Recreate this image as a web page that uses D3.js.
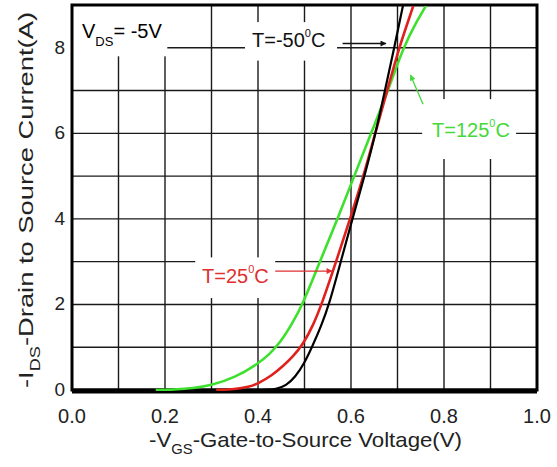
<!DOCTYPE html>
<html lang="en">
<head>
    <meta charset="UTF-8">
    <title>Transfer Characteristics</title>
    <script src="https://cdnjs.cloudflare.com/ajax/libs/d3/7.8.5/d3.min.js"></script>
    <style>
        body { margin: 0; background: white; }
        text { font-family: 'Liberation Sans', Arial, sans-serif; }
    </style>
</head>
<body>
    <div id="chart"></div>
    <script>
        // Curve data: [-VGS (V), -IDS (A)]
        const curveCold = [[0.41,0],[0.44,0.02],[0.46,0.1],[0.48,0.3],[0.5,0.63],[0.516,1.0],[0.536,1.5],[0.553,2.0],[0.578,3.0],[0.603,4.0],[0.629,5.0],[0.653,6.0],[0.673,7.0],[0.693,8.0],[0.712,9.0],[0.716,9.2]];
        const curveRoom = [[0.31,0],[0.35,0.02],[0.38,0.07],[0.4,0.15],[0.43,0.34],[0.454,0.56],[0.475,0.78],[0.497,1.07],[0.518,1.5],[0.537,2.0],[0.568,3.0],[0.598,4.0],[0.627,5.0],[0.652,6.0],[0.678,7.0],[0.703,8.0],[0.735,9.0],[0.74,9.2]];
        const curveHot = [[0.18,0],[0.22,0.01],[0.26,0.04],[0.3,0.11],[0.35,0.29],[0.4,0.61],[0.425,0.84],[0.447,1.1],[0.472,1.52],[0.497,2.02],[0.533,3.0],[0.571,4.0],[0.607,5.0],[0.643,6.0],[0.68,7.0],[0.712,8.0],[0.74,8.6],[0.763,9.0],[0.77,9.2]];

        const xTicks = [0, 0.2, 0.4, 0.6, 0.8, 1.0];
        const yTicks = [0, 2, 4, 6, 8];
        const xGrid = d3.range(0, 11).map(i => i / 10);
        const yGrid = d3.range(0, 10);

        const W = 557, H = 467;
        const margin = { top: 5, right: 20, bottom: 77, left: 72 };

        const svg = d3.select("#chart").append("svg")
            .attr("width", W)
            .attr("height", H);

        const x = d3.scaleLinear().domain([0, 1]).range([margin.left, 537]);
        const y = d3.scaleLinear().domain([0, 9]).range([390, margin.top]);

        // grid
        svg.append("g").selectAll("line").data(xGrid).enter().append("line")
            .attr("x1", d => x(d)).attr("x2", d => x(d))
            .attr("y1", y(0)).attr("y2", y(9))
            .attr("stroke", "#1a1a1a").attr("stroke-width", 1.4);
        svg.append("g").selectAll("line").data(yGrid).enter().append("line")
            .attr("x1", x(0)).attr("x2", x(1))
            .attr("y1", d => y(d)).attr("y2", d => y(d))
            .attr("stroke", "#1a1a1a").attr("stroke-width", 1.4);

        // white boxes behind the annotations
        const boxes = [
            [0, 9, 0.205, 7.8],
            [0.372, 8.6, 0.57, 7.7],
            [0.753, 6.8, 0.955, 5.4],
            [0.265, 3.1, 0.437, 2.15]
        ];
        svg.append("g").selectAll("rect").data(boxes).enter().append("rect")
            .attr("x", d => x(d[0]))
            .attr("y", d => y(d[1]))
            .attr("width", d => x(d[2]) - x(d[0]))
            .attr("height", d => y(d[3]) - y(d[1]))
            .attr("fill", "white");

        // frame
        svg.append("rect")
            .attr("x", x(0)).attr("y", y(9))
            .attr("width", x(1) - x(0)).attr("height", y(0) - y(9))
            .attr("fill", "none").attr("stroke", "black").attr("stroke-width", 3);
        svg.append("line")
            .attr("x1", x(0)).attr("x2", x(1))
            .attr("y1", y(0) + 1).attr("y2", y(0) + 1)
            .attr("stroke", "black").attr("stroke-width", 5);

        // curves
        svg.append("clipPath").attr("id", "clip").append("rect")
            .attr("x", x(0)).attr("y", y(9) + 1)
            .attr("width", x(1) - x(0)).attr("height", y(0) - y(9));

        const line = d3.line()
            .x(d => x(d[0]))
            .y(d => y(d[1]))
            .curve(d3.curveBasis);

        const curves = [
            { data: curveHot, color: "#3ee02e", w: 2.6 },
            { data: curveRoom, color: "#e0201c", w: 2.6 },
            { data: curveCold, color: "#000000", w: 2.2 }
        ];
        svg.append("g").attr("clip-path", "url(#clip)")
            .selectAll("path").data(curves).enter().append("path")
            .attr("d", d => line(d.data))
            .attr("fill", "none")
            .attr("stroke", d => d.color)
            .attr("stroke-width", d => d.w);

        // tick labels
        svg.append("g").selectAll("text").data(xTicks).enter().append("text")
            .attr("x", d => x(d))
            .attr("y", 423)
            .attr("text-anchor", "middle")
            .attr("font-size", 20)
            .attr("fill", "#222")
            .text(d => d.toFixed(1));
        svg.append("g").selectAll("text").data(yTicks).enter().append("text")
            .attr("x", 65)
            .attr("y", d => y(d) + 6)
            .attr("text-anchor", "end")
            .attr("font-size", 19)
            .attr("fill", "#222")
            .text(d => d);

        // axis titles
        const xt = svg.append("text")
            .attr("x", 149).attr("y", 447)
            .attr("font-size", 21)
            .attr("fill", "#222")
            .attr("textLength", 313)
            .attr("lengthAdjust", "spacingAndGlyphs");
        xt.append("tspan").text("-V");
        xt.append("tspan").attr("dy", 7).attr("font-size", 14).text("GS");
        xt.append("tspan").attr("dy", -7).text("-Gate-to-Source Voltage(V)");

        const yt = svg.append("text")
            .attr("transform", "translate(33,388) rotate(-90)")
            .attr("font-size", 21)
            .attr("fill", "#222")
            .attr("textLength", 376)
            .attr("lengthAdjust", "spacingAndGlyphs");
        yt.append("tspan").text("-I");
        yt.append("tspan").attr("dy", 7).attr("font-size", 14).text("DS");
        yt.append("tspan").attr("dy", -7).text("-Drain to Source Current(A)");

        // annotations
        const vds = svg.append("text").attr("x", 82).attr("y", 38).attr("font-size", 20);
        vds.append("tspan").text("V");
        vds.append("tspan").attr("dy", 8).attr("font-size", 13).text("DS");
        vds.append("tspan").attr("dy", -8).text("= -5V");

        const labels = [
            { x: 252, y: 47, t: "T=-50", color: "#111" },
            { x: 432, y: 137, t: "T=125", color: "#44d83a" },
            { x: 202, y: 283, t: "T=25", color: "#e03030" }
        ];
        labels.forEach(l => {
            const t = svg.append("text").attr("x", l.x).attr("y", l.y)
                .attr("font-size", 20).attr("fill", l.color);
            t.append("tspan").text(l.t);
            t.append("tspan").attr("dy", -10).attr("font-size", 11).text("0");
            t.append("tspan").attr("dy", 10).text("C");
        });

        // arrows
        const defs = svg.append("defs");
        [["ab", "#111"], ["ag", "#44d83a"], ["ar", "#e03030"]].forEach(([id, c]) => {
            defs.append("marker").attr("id", id)
                .attr("viewBox", "0 0 10 10").attr("refX", 9).attr("refY", 5)
                .attr("markerWidth", 7).attr("markerHeight", 6)
                .attr("markerUnits", "userSpaceOnUse")
                .attr("orient", "auto")
                .append("path").attr("d", "M0,0 L10,5 L0,10 Z").attr("fill", c);
        });
        const arrows = [
            [0.582, 8.1, 0.675, 8.1, "#111", "ab"],
            [0.755, 6.68, 0.728, 7.36, "#44d83a", "ag"],
            [0.437, 2.78, 0.559, 2.78, "#e03030", "ar"]
        ];
        svg.append("g").selectAll("line").data(arrows).enter().append("line")
            .attr("x1", d => x(d[0])).attr("y1", d => y(d[1]))
            .attr("x2", d => x(d[2])).attr("y2", d => y(d[3]))
            .attr("stroke", d => d[4]).attr("stroke-width", 1.3)
            .attr("marker-end", d => `url(#${d[5]})`);
    </script>
</body>
</html>
